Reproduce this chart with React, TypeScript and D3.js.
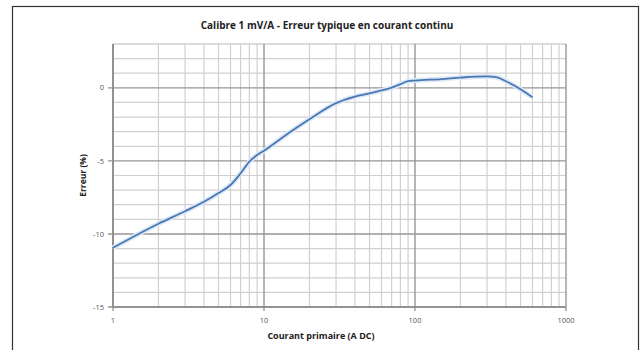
import React from "react";
import * as d3 from "d3";

const TITLE = "Calibre 1 mV/A - Erreur typique en courant continu";
const X_TITLE = "Courant primaire (A DC)";
const Y_TITLE = "Erreur (%)";

const current = [1, 2, 3, 4, 5, 6, 7, 8, 9, 10, 15, 20, 30, 40, 50, 60, 70, 80, 90, 100, 150, 200, 300, 350, 400, 500, 600];
const errorPct = [-10.95, -9.3, -8.45, -7.8, -7.2, -6.65, -5.85, -5.05, -4.6, -4.3, -3.0, -2.15, -1.05, -0.6, -0.38, -0.18, 0.02, 0.25, 0.46, 0.5, 0.6, 0.7, 0.78, 0.72, 0.45, -0.1, -0.65];

const xTicks = [1, 10, 100, 1000];
const xTickLabels = ["1", "10", "100", "1000"];
const yTicks = [0, -5, -10, -15];
const yTickLabels = ["0", "-5", "-10", "-15"];
const yDomain = [-15, 3];

const W = 641;
const H = 350;
const M = { left: 113, right: 566, top: 44, bottom: 307 };

export default function App() {
  const x = d3.scaleLog().domain([1, 1000]).range([M.left, M.right]);
  const y = d3.scaleLinear().domain(yDomain).range([M.bottom, M.top]);

  const minorX: number[] = [];
  for (let dec = 1; dec < 1000; dec *= 10) {
    for (let k = 2; k <= 9; k++) minorX.push(dec * k);
  }
  const minorY: number[] = d3.range(yDomain[0], yDomain[1] + 1, 1).filter((v) => v % 5 !== 0);

  const pts: [number, number][] = current.map((c, i) => [c, errorPct[i]]);
  const line = d3
    .line<[number, number]>()
    .x((d) => x(d[0]))
    .y((d) => y(d[1]))
    .curve(d3.curveMonotoneX);
  const path = line(pts) || "";

  const font = "'Open Sans', 'Liberation Sans', sans-serif";

  return (
    <svg
      width={W}
      height={H}
      style={{ position: "absolute", left: 0, top: 0, background: "#fff" }}
    >
      <rect x={12.5} y={6.5} width={626} height={360} fill="#fff" stroke="#333" strokeWidth={1.2} />
      <text
        x={327}
        y={29}
        textAnchor="middle"
        fontFamily={font}
        fontWeight={700}
        fontSize={10}
        fill="#222"
      >
        {TITLE}
      </text>

      {/* minor grid */}
      {minorX.map((v) => (
        <line key={"mx" + v} x1={x(v)} x2={x(v)} y1={M.top} y2={M.bottom} stroke="#d0d0d0" strokeWidth={1.2} />
      ))}
      {minorY.map((v) => (
        <line key={"my" + v} x1={M.left} x2={M.right} y1={y(v)} y2={y(v)} stroke="#d0d0d0" strokeWidth={1.2} />
      ))}
      <line x1={M.left} x2={M.right} y1={M.top} y2={M.top} stroke="#d0d0d0" strokeWidth={1.2} />
      {/* major grid */}
      {xTicks.map((v) => (
        <line key={"Mx" + v} x1={x(v)} x2={x(v)} y1={M.top} y2={M.bottom} stroke="#969696" strokeWidth={1.4} />
      ))}
      {yTicks.map((v) => (
        <line key={"My" + v} x1={M.left - 5} x2={M.right} y1={y(v)} y2={y(v)} stroke="#969696" strokeWidth={1.4} />
      ))}
      {/* axes */}
      <line x1={M.left} x2={M.left} y1={M.top} y2={M.bottom} stroke="#8a8a8a" strokeWidth={1.6} />
      <line x1={M.left} x2={M.right} y1={M.bottom} y2={M.bottom} stroke="#8a8a8a" strokeWidth={1.6} />
      {xTicks.map((v) => (
        <line key={"tx" + v} x1={x(v)} x2={x(v)} y1={M.bottom} y2={M.bottom + 4} stroke="#8a8a8a" strokeWidth={1.2} />
      ))}

      {/* curve */}
      <path d={path} fill="none" stroke="#dce9f7" strokeWidth={5} strokeLinejoin="round" />
      <path d={path} fill="none" stroke="#4a77b4" strokeWidth={1.8} strokeLinejoin="round" />

      {/* tick labels */}
      {yTicks.map((v, i) => (
        <text
          key={"ly" + v}
          x={M.left - 9}
          y={y(v)}
          dy="0.35em"
          textAnchor="end"
          fontFamily={font}
          fontSize={7.5}
          fill="#555"
        >
          {yTickLabels[i]}
        </text>
      ))}
      {xTicks.map((v, i) => (
        <text
          key={"lx" + v}
          x={x(v)}
          y={M.bottom + 16}
          textAnchor="middle"
          fontFamily={font}
          fontSize={7.5}
          fill="#555"
        >
          {xTickLabels[i]}
        </text>
      ))}

      <text
        x={321}
        y={339}
        textAnchor="middle"
        fontFamily={font}
        fontWeight={700}
        fontSize={9}
        fill="#222"
      >
        {X_TITLE}
      </text>
      <text
        transform={`translate(86, ${(M.top + M.bottom) / 2}) rotate(-90)`}
        textAnchor="middle"
        fontFamily={font}
        fontWeight={700}
        fontSize={8.5}
        fill="#222"
      >
        {Y_TITLE}
      </text>
    </svg>
  );
}
